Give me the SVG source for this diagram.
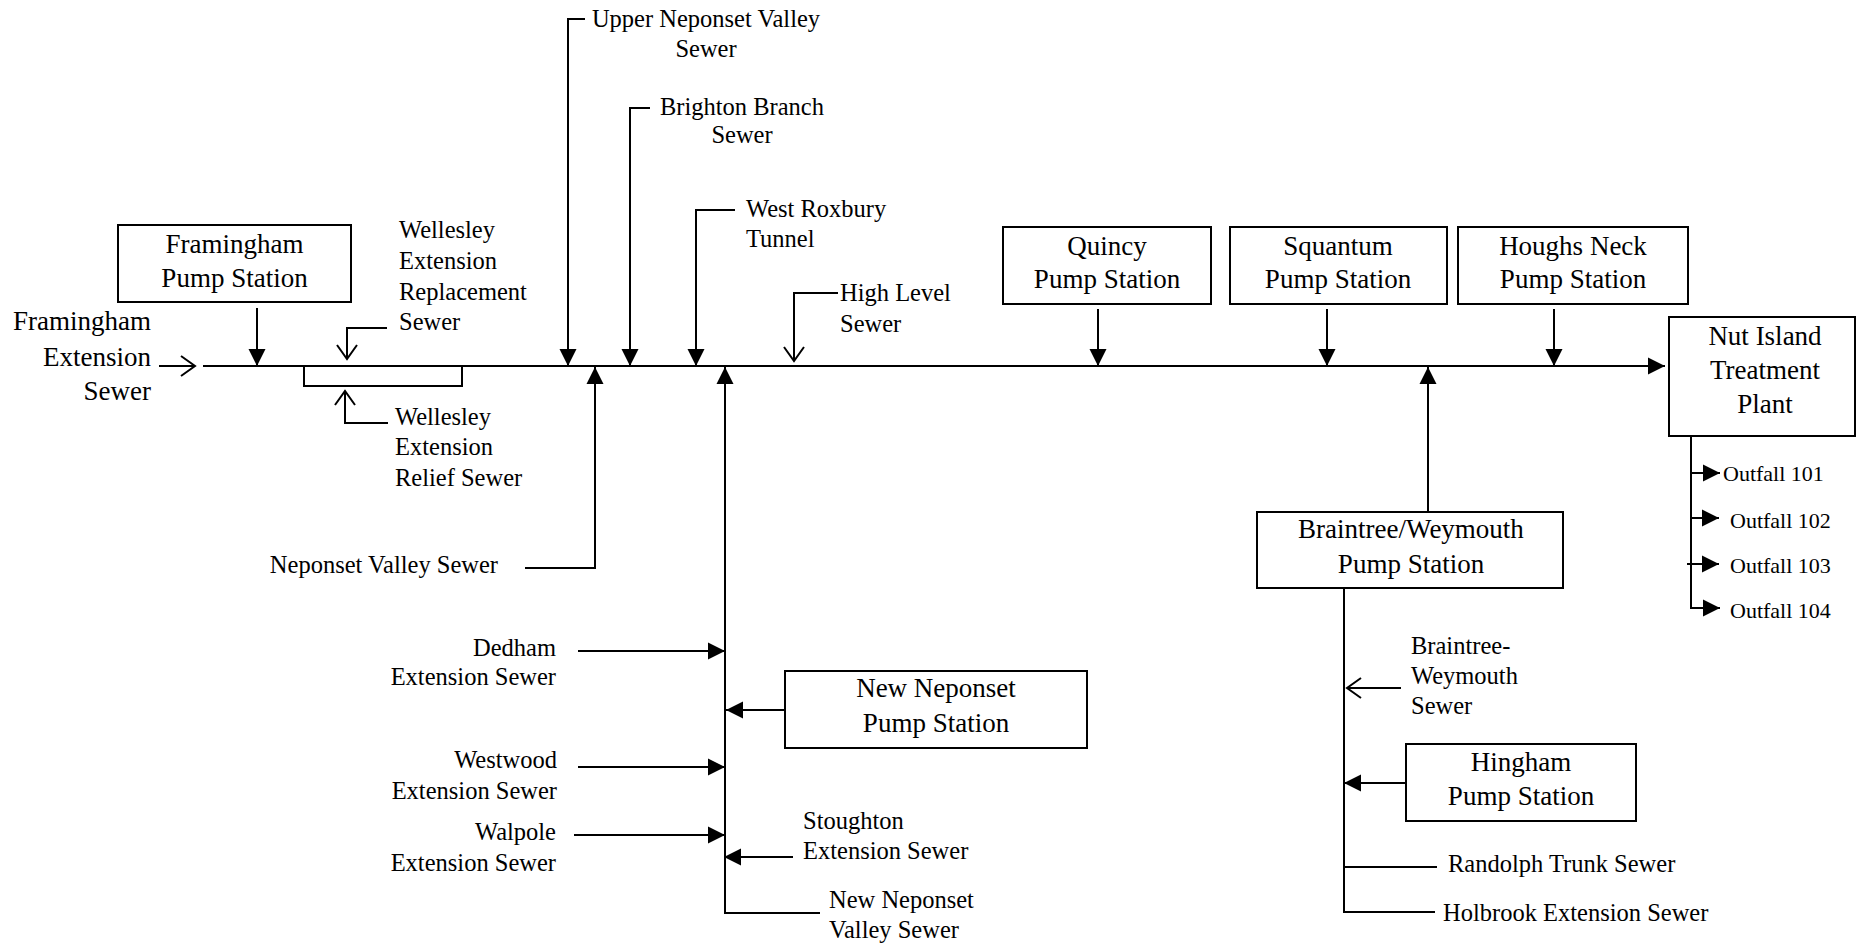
<svg xmlns="http://www.w3.org/2000/svg" width="1862" height="947" viewBox="0 0 1862 947">
<style>
.box{fill:#fff;stroke:#000;stroke-width:2}
.ln{fill:none;stroke:#000;stroke-width:2}
.fa{marker-end:url(#fill)}
.oa{marker-end:url(#open)}
text{font-family:"Liberation Serif","Times New Roman",serif;fill:#000}
.bt{font-size:27px;text-anchor:middle}
.lb{font-size:24.5px}
.lbe{font-size:24.5px;text-anchor:end}
.lbm{font-size:24.5px;text-anchor:middle}
.of{font-size:22px}
</style>
<defs>
<marker id="fill" markerUnits="userSpaceOnUse" markerWidth="18" markerHeight="18" refX="17" refY="8.5" orient="auto" overflow="visible">
<path d="M0,0 L17,8.5 L0,17 z" fill="#000"/>
</marker>
<marker id="open" markerUnits="userSpaceOnUse" markerWidth="16" markerHeight="22" refX="14" refY="10" orient="auto" overflow="visible">
<path d="M0,0 L14,10 L0,20" fill="none" stroke="#000" stroke-width="2"/>
</marker>
</defs>

<g id="connectors">
<line class="ln fa" x1="203" y1="366" x2="1665" y2="366"/>
<line class="ln oa" x1="159" y1="366" x2="195" y2="366"/>
<line class="ln fa" x1="257" y1="308" x2="257" y2="366"/>
<path class="ln oa" d="M387,328 H347 V359"/>
<path class="ln oa" d="M388,423 H345 V391"/>
<path class="ln fa" d="M585,19 H568 V366"/>
<path class="ln fa" d="M650,108 H630 V366"/>
<path class="ln fa" d="M735,210 H696 V366"/>
<path class="ln oa" d="M838,293 H794 V361"/>
<path class="ln fa" d="M525,568 H595 V367"/>
<path class="ln fa" d="M820,913 H725 V367"/>
<path class="ln fa" d="M578,651 H725"/>
<path class="ln fa" d="M785,710 H726"/>
<path class="ln fa" d="M578,767 H725"/>
<path class="ln fa" d="M574,835 H725"/>
<path class="ln fa" d="M793,857 H724"/>
<line class="ln fa" x1="1098" y1="309" x2="1098" y2="366"/>
<line class="ln fa" x1="1327" y1="309" x2="1327" y2="366"/>
<line class="ln fa" x1="1554" y1="309" x2="1554" y2="366"/>
<line class="ln fa" x1="1428" y1="512" x2="1428" y2="367"/>
<path class="ln" d="M1344,588 V912 H1435"/>
<path class="ln" d="M1344,867 H1437"/>
<path class="ln oa" d="M1401,688 H1347"/>
<path class="ln fa" d="M1406,783 H1344"/>
<path class="ln fa" d="M1691,436 V608 H1720"/>
<path class="ln fa" d="M1691,473 H1720"/>
<path class="ln fa" d="M1691,518 H1719"/>
<path class="ln fa" d="M1687,564 H1719"/>
</g>

<g id="framingham_ps"><rect class="box" x="118" y="225" width="233" height="77"/>
<text class="bt" x="234.5" y="253">Framingham</text><text class="bt" x="234.5" y="287">Pump Station</text></g>

<g id="wellesley_box"><rect class="box" x="304" y="366" width="158" height="20"/></g>

<g id="quincy_ps"><rect class="box" x="1003" y="227" width="208" height="77"/>
<text class="bt" x="1107" y="255">Quincy</text><text class="bt" x="1107" y="288">Pump Station</text></g>

<g id="squantum_ps"><rect class="box" x="1230" y="227" width="217" height="77"/>
<text class="bt" x="1338" y="255">Squantum</text><text class="bt" x="1338" y="288">Pump Station</text></g>

<g id="houghs_neck_ps"><rect class="box" x="1458" y="227" width="230" height="77"/>
<text class="bt" x="1573" y="255">Houghs Neck</text><text class="bt" x="1573" y="288">Pump Station</text></g>

<g id="nut_island"><rect class="box" x="1669" y="317" width="186" height="119"/>
<text class="bt" x="1765" y="345">Nut Island</text><text class="bt" x="1765" y="379">Treatment</text><text class="bt" x="1765" y="413">Plant</text></g>

<g id="braintree_ps"><rect class="box" x="1257" y="512" width="306" height="76"/>
<text class="bt" x="1411" y="538">Braintree/Weymouth</text><text class="bt" x="1411" y="573">Pump Station</text></g>

<g id="hingham_ps"><rect class="box" x="1406" y="744" width="230" height="77"/>
<text class="bt" x="1521" y="771">Hingham</text><text class="bt" x="1521" y="805">Pump Station</text></g>

<g id="new_neponset_ps"><rect class="box" x="785" y="671" width="302" height="77"/>
<text class="bt" x="936" y="697">New Neponset</text><text class="bt" x="936" y="732">Pump Station</text></g>

<g id="framingham_ext">
<text style="font-size:27px;text-anchor:end" x="151" y="330">Framingham</text>
<text style="font-size:27px;text-anchor:end" x="151" y="366">Extension</text>
<text style="font-size:27px;text-anchor:end" x="151" y="400">Sewer</text></g>

<g id="wellesley_repl">
<text class="lb" x="399" y="238">Wellesley</text><text class="lb" x="399" y="269">Extension</text>
<text class="lb" x="399" y="300">Replacement</text><text class="lb" x="399" y="330">Sewer</text></g>

<g id="wellesley_relief">
<text class="lb" x="395" y="425">Wellesley</text><text class="lb" x="395" y="455">Extension</text>
<text class="lb" x="395" y="486">Relief Sewer</text></g>

<g id="upper_neponset"><text class="lbm" x="706" y="27">Upper Neponset Valley</text><text class="lbm" x="706" y="57">Sewer</text></g>
<g id="brighton"><text class="lbm" x="742" y="115">Brighton Branch</text><text class="lbm" x="742" y="143">Sewer</text></g>
<g id="west_roxbury"><text class="lb" x="746" y="217">West Roxbury</text><text class="lb" x="746" y="247">Tunnel</text></g>
<g id="high_level"><text class="lb" x="840" y="301">High Level</text><text class="lb" x="840" y="332">Sewer</text></g>
<g id="neponset_valley"><text class="lbe" x="498" y="573">Neponset Valley Sewer</text></g>
<g id="dedham"><text class="lbe" x="556" y="656">Dedham</text><text class="lbe" x="556" y="685">Extension Sewer</text></g>
<g id="westwood"><text class="lbe" x="557" y="768">Westwood</text><text class="lbe" x="557" y="799">Extension Sewer</text></g>
<g id="walpole"><text class="lbe" x="556" y="840">Walpole</text><text class="lbe" x="556" y="871">Extension Sewer</text></g>
<g id="stoughton"><text class="lb" x="803" y="829">Stoughton</text><text class="lb" x="803" y="859">Extension Sewer</text></g>
<g id="new_neponset_valley"><text class="lb" x="829" y="908">New Neponset</text><text class="lb" x="829" y="938">Valley Sewer</text></g>
<g id="bw_sewer"><text class="lb" x="1411" y="654">Braintree-</text><text class="lb" x="1411" y="684">Weymouth</text><text class="lb" x="1411" y="714">Sewer</text></g>
<g id="randolph"><text class="lb" x="1448" y="872">Randolph Trunk Sewer</text></g>
<g id="holbrook"><text class="lb" x="1443" y="921">Holbrook Extension Sewer</text></g>
<g id="outfalls">
<text class="of" x="1723" y="481">Outfall 101</text>
<text class="of" x="1730" y="528">Outfall 102</text>
<text class="of" x="1730" y="573">Outfall 103</text>
<text class="of" x="1730" y="618">Outfall 104</text></g>
</svg>
